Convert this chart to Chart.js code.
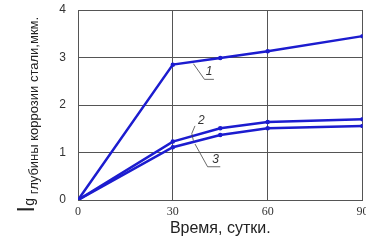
<!DOCTYPE html>
<html>
<head>
<meta charset="utf-8">
<script src="https://cdn.jsdelivr.net/npm/chart.js@4"></script>
<style>
  body { margin: 0; background: #fff; }
  #wrap { width: 366px; height: 242px; }
</style>
</head>
<body>
<div id="wrap"><canvas id="myChart" width="366" height="242"></canvas></div>
<script>
var days = [0, 30, 45, 60, 90];
var series1 = [0, 2.85, 2.99, 3.13, 3.45];
var series2 = [0, 1.23, 1.51, 1.64, 1.70];
var series3 = [0, 1.11, 1.37, 1.51, 1.56];
var xTicks = [0, 30, 60, 90];
var yTicks = [0, 1, 2, 3, 4];
var curveLabels = ['1', '2', '3'];

function pts(ys) {
  return days.map(function (d, i) { return { x: d, y: ys[i] }; });
}

// leader lines for the curve numbers, in data units
var leaders = [
  { text: curveLabels[0], path: [[36.5, 2.87], [40, 2.54], [43, 2.54]], at: [41.5, 2.7] },
  { text: curveLabels[1], path: [[37, 1.56], [36, 1.40], [36.5, 1.25]], at: [39, 1.68] },
  { text: curveLabels[2], path: [[37, 1.18], [41, 0.70], [45, 0.70]], at: [43.5, 0.85] }
];

var extras = {
  id: 'extras',
  afterDraw: function (chart) {
    var c = chart.ctx, xs = chart.scales.x, ys = chart.scales.y;
    c.save();
    c.strokeStyle = '#444';
    c.lineWidth = 0.8;
    c.fillStyle = '#333';
    c.font = 'italic 12px "Liberation Sans"';
    c.textAlign = 'center';
    c.textBaseline = 'middle';
    leaders.forEach(function (l) {
      c.beginPath();
      l.path.forEach(function (p, i) {
        var px = xs.getPixelForValue(p[0]), py = ys.getPixelForValue(p[1]);
        if (i === 0) c.moveTo(px, py); else c.lineTo(px, py);
      });
      c.stroke();
      c.fillText(l.text, xs.getPixelForValue(l.at[0]), ys.getPixelForValue(l.at[1]));
    });
    // y axis title, rotated
    c.translate(34, 212);
    c.rotate(-Math.PI / 2);
    c.textAlign = 'left';
    c.textBaseline = 'alphabetic';
    c.fillStyle = '#222';
    c.font = '24px "Liberation Sans Narrow", "Liberation Sans"';
    c.fillText('l', 0, 0);
    var w = c.measureText('l').width;
    c.font = '14px "Liberation Sans Narrow", "Liberation Sans"';
    c.fillText('g', w + 1, 0);
    var w2 = c.measureText('g').width;
    c.font = '13px "Liberation Sans Narrow", "Liberation Sans"';
    c.fillText(' глубины коррозии стали,мкм.', w + w2 + 1, 4);
    c.restore();
  }
};

var ctx = document.getElementById('myChart');
var lineStyle = { borderColor: '#1c1ccf', backgroundColor: '#1c1ccf', borderWidth: 2.5, pointRadius: 1, pointHoverRadius: 0, tension: 0, fill: false };
var myChart = new Chart(ctx, {
  type: 'line',
  data: {
    datasets: [
      Object.assign({ label: curveLabels[0], data: pts(series1) }, lineStyle),
      Object.assign({ label: curveLabels[1], data: pts(series2) }, lineStyle),
      Object.assign({ label: curveLabels[2], data: pts(series3) }, lineStyle)
    ]
  },
  options: {
    responsive: false,
    maintainAspectRatio: false,
    animation: false,
    layout: { padding: { top: 10, right: 1, left: 0, bottom: 0 } },
    plugins: { legend: { display: false }, tooltip: { enabled: false } },
    scales: {
      x: {
        type: 'linear',
        min: 0, max: 90,
        afterBuildTicks: function (s) { s.ticks = xTicks.map(function (v) { return { value: v }; }); },
        afterFit: function (s) { s.height = 42; s.paddingLeft = 0; s.paddingRight = 0; },
        grid: { color: '#555', lineWidth: 1, drawTicks: false },
        border: { color: '#555' },
        ticks: { color: '#333', padding: 5, font: { family: 'Liberation Serif', size: 12 } },
        title: { display: true, text: 'Время, сутки.', color: '#222', padding: { top: 2 }, font: { family: 'Liberation Sans Narrow, Liberation Sans', size: 16 } }
      },
      y: {
        min: 0, max: 4,
        afterBuildTicks: function (s) { s.ticks = yTicks.map(function (v) { return { value: v }; }); },
        afterFit: function (s) { s.width = 78; s.paddingTop = 0; s.paddingBottom = 0; },
        grid: { color: '#555', lineWidth: 1, drawTicks: false },
        border: { color: '#555' },
        ticks: { color: '#333', padding: 12, font: { family: 'Liberation Sans', size: 12 } }
      }
    }
  },
  plugins: [extras]
});
</script>
</body>
</html>
